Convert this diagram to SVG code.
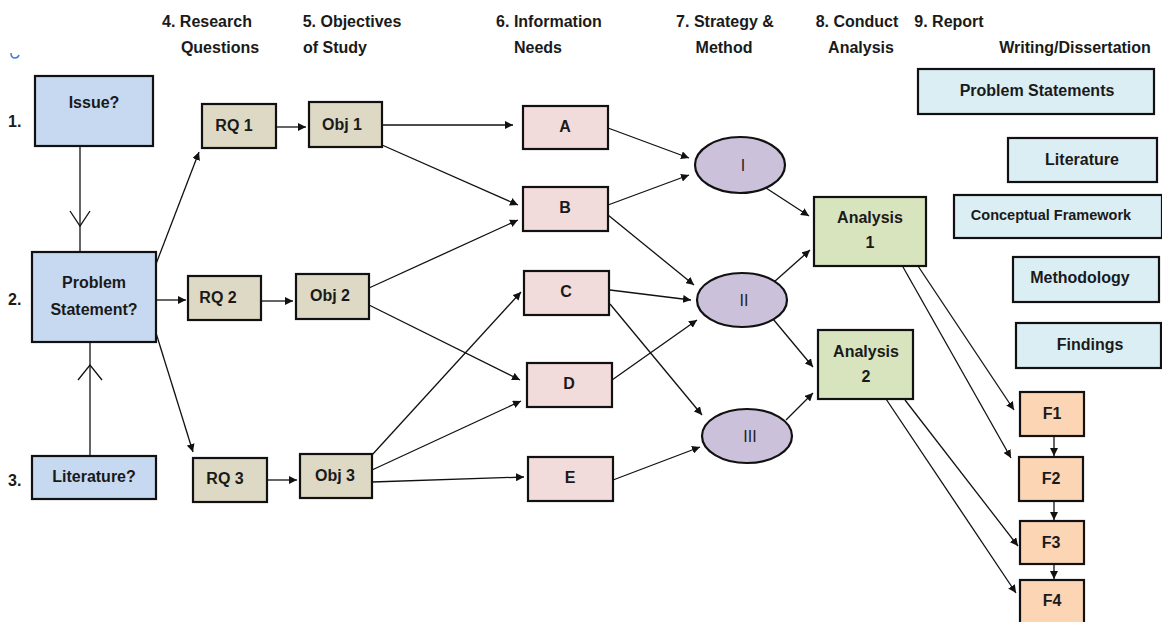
<svg xmlns="http://www.w3.org/2000/svg" width="1162" height="622" viewBox="0 0 1162 622">
<style>
text{font-family:"Liberation Sans",Arial,sans-serif;font-size:16px;font-weight:bold;fill:#1a1a1a;text-anchor:middle}
.num{text-anchor:start}
.thin{font-weight:normal;fill:#222}
.box{stroke:#111;stroke-width:2.2}
.blue{fill:#c6d9f1}
.tan{fill:#ddd9c4}
.pink{fill:#f2dcdb}
.vio{fill:#ccc1da}
.grn{fill:#d7e4bd}
.cyan{fill:#dbeef4}
.org{fill:#fcd5b5}
.c{stroke:#111;stroke-width:1.3;fill:none}
</style>
<defs>
<marker id="ah" viewBox="0 0 10 10" refX="10" refY="5" markerWidth="8" markerHeight="8" markerUnits="userSpaceOnUse" orient="auto">
<path d="M0,0 L10,5 L0,10 z" fill="#111"/>
</marker>
</defs>
<rect width="1162" height="622" fill="#fff"/>
<path d="M11,53 q0,5 4,5 q3,0 4,-3" stroke="#3b7be0" stroke-width="1.5" fill="none"/>
<g id="headers">
<text x="207" y="27">4. Research</text>
<text x="220" y="53">Questions</text>
<text x="352" y="27">5. Objectives</text>
<text x="335" y="53">of Study</text>
<text x="549" y="27">6. Information</text>
<text x="538" y="53">Needs</text>
<text x="725" y="27">7. Strategy &amp;</text>
<text x="724" y="53">Method</text>
<text x="857" y="27">8. Conduct</text>
<text x="861" y="53">Analysis</text>
<text x="949" y="27">9. Report</text>
<text x="1075" y="53">Writing/Dissertation</text>
<text class="num" x="8" y="127">1.</text>
<text class="num" x="8" y="305">2.</text>
<text class="num" x="8" y="486">3.</text>
</g>
<g id="connectors">
<line class="c" x1="80" y1="146" x2="80" y2="252"/>
<path class="c" d="M70,211 L80,226 L90,211"/>
<line class="c" x1="90" y1="456" x2="90" y2="342"/>
<path class="c" d="M78,380 L90,365 L102,380"/>
<line class="c" x1="156" y1="264" x2="199" y2="152" marker-end="url(#ah)"/>
<line class="c" x1="156" y1="300" x2="186" y2="300" marker-end="url(#ah)"/>
<line class="c" x1="156" y1="333" x2="193" y2="452" marker-end="url(#ah)"/>
<line class="c" x1="276" y1="127" x2="306" y2="127" marker-end="url(#ah)"/>
<line class="c" x1="261" y1="301" x2="293" y2="301" marker-end="url(#ah)"/>
<line class="c" x1="267" y1="480" x2="297" y2="480" marker-end="url(#ah)"/>
<line class="c" x1="382" y1="125" x2="513" y2="125" marker-end="url(#ah)"/>
<line class="c" x1="382" y1="145" x2="518" y2="205" marker-end="url(#ah)"/>
<line class="c" x1="369" y1="288" x2="518" y2="220" marker-end="url(#ah)"/>
<line class="c" x1="369" y1="305" x2="520" y2="380" marker-end="url(#ah)"/>
<line class="c" x1="372" y1="455" x2="521" y2="292" marker-end="url(#ah)"/>
<line class="c" x1="372" y1="470" x2="521" y2="401" marker-end="url(#ah)"/>
<line class="c" x1="372" y1="482" x2="524" y2="477" marker-end="url(#ah)"/>
<line class="c" x1="608" y1="128" x2="689" y2="158" marker-end="url(#ah)"/>
<line class="c" x1="608" y1="205" x2="689" y2="175" marker-end="url(#ah)"/>
<line class="c" x1="608" y1="215" x2="694" y2="285" marker-end="url(#ah)"/>
<line class="c" x1="610" y1="290" x2="691" y2="300" marker-end="url(#ah)"/>
<line class="c" x1="610" y1="304" x2="702" y2="415" marker-end="url(#ah)"/>
<line class="c" x1="612" y1="380" x2="697" y2="320" marker-end="url(#ah)"/>
<line class="c" x1="613" y1="480" x2="700" y2="447" marker-end="url(#ah)"/>
<line class="c" x1="766" y1="188" x2="809" y2="216" marker-end="url(#ah)"/>
<line class="c" x1="774" y1="282" x2="810" y2="250" marker-end="url(#ah)"/>
<line class="c" x1="773" y1="319" x2="813" y2="367" marker-end="url(#ah)"/>
<line class="c" x1="786" y1="420" x2="813" y2="393" marker-end="url(#ah)"/>
<line class="c" x1="918" y1="266" x2="1014" y2="410" marker-end="url(#ah)"/>
<line class="c" x1="903" y1="267" x2="1011" y2="458" marker-end="url(#ah)"/>
<line class="c" x1="905" y1="400" x2="1018" y2="546" marker-end="url(#ah)"/>
<line class="c" x1="884" y1="396" x2="1016" y2="593" marker-end="url(#ah)"/>
<line class="c" x1="1054" y1="436" x2="1054" y2="456" marker-end="url(#ah)"/>
<line class="c" x1="1054" y1="501" x2="1054" y2="520" marker-end="url(#ah)"/>
<line class="c" x1="1054" y1="564" x2="1054" y2="579" marker-end="url(#ah)"/>
</g>
<g id="issue"><rect class="box blue" x="35" y="76" width="118" height="70"/><text x="94" y="108">Issue?</text></g>
<g id="problem"><rect class="box blue" x="32" y="252" width="124" height="90"/><text x="94" y="288">Problem</text><text x="94" y="315">Statement?</text></g>
<g id="literatureq"><rect class="box blue" x="32" y="456" width="124" height="43"/><text x="94" y="482">Literature?</text></g>
<g id="rq1"><rect class="box tan" x="202" y="104" width="74" height="44"/><text x="234" y="131">RQ 1</text></g>
<g id="rq2"><rect class="box tan" x="188" y="276" width="73" height="44"/><text x="218" y="303">RQ 2</text></g>
<g id="rq3"><rect class="box tan" x="193" y="458" width="74" height="44"/><text x="225" y="484">RQ 3</text></g>
<g id="obj1"><rect class="box tan" x="309" y="102" width="73" height="45"/><text x="342" y="130">Obj 1</text></g>
<g id="obj2"><rect class="box tan" x="296" y="274" width="73" height="45"/><text x="330" y="301">Obj 2</text></g>
<g id="obj3"><rect class="box tan" x="300" y="454" width="72" height="44"/><text x="335" y="481">Obj 3</text></g>
<g id="a"><rect class="box pink" x="523" y="106" width="85" height="43"/><text x="565" y="132">A</text></g>
<g id="b"><rect class="box pink" x="523" y="187" width="85" height="44"/><text x="565" y="213">B</text></g>
<g id="cc"><rect class="box pink" x="524" y="271" width="85" height="44"/><text x="566" y="297">C</text></g>
<g id="d"><rect class="box pink" x="527" y="363" width="85" height="44"/><text x="569" y="389">D</text></g>
<g id="e"><rect class="box pink" x="528" y="457" width="85" height="44"/><text x="570" y="483">E</text></g>
<g id="s1"><ellipse class="box vio" cx="740" cy="165" rx="45" ry="28"/><text class="thin" x="743" y="171">I</text></g>
<g id="s2"><ellipse class="box vio" cx="742" cy="300" rx="45" ry="27"/><text class="thin" x="744" y="306">II</text></g>
<g id="s3"><ellipse class="box vio" cx="747" cy="436" rx="45" ry="27"/><text class="thin" x="750" y="442">III</text></g>
<g id="an1"><rect class="box grn" x="814" y="197" width="112" height="69"/><text x="870" y="223">Analysis</text><text x="870" y="248">1</text></g>
<g id="an2"><rect class="box grn" x="818" y="330" width="95" height="69"/><text x="866" y="357">Analysis</text><text x="866" y="382">2</text></g>
<g id="rps"><rect class="box cyan" x="918" y="69" width="236" height="45"/><text x="1037" y="96">Problem Statements</text></g>
<g id="rlit"><rect class="box cyan" x="1008" y="138" width="149" height="44"/><text x="1082" y="165">Literature</text></g>
<g id="rcf"><rect class="box cyan" x="954" y="195" width="208" height="43"/><text x="1051" y="220" style="font-size:14.5px">Conceptual Framework</text></g>
<g id="rmeth"><rect class="box cyan" x="1013" y="257" width="146" height="45"/><text x="1080" y="283">Methodology</text></g>
<g id="rfind"><rect class="box cyan" x="1016" y="323" width="145" height="45"/><text x="1090" y="350">Findings</text></g>
<g id="f1"><rect class="box org" x="1020" y="392" width="64" height="44"/><text x="1052" y="419">F1</text></g>
<g id="f2"><rect class="box org" x="1019" y="457" width="64" height="44"/><text x="1051" y="484">F2</text></g>
<g id="f3"><rect class="box org" x="1020" y="521" width="64" height="43"/><text x="1051" y="548">F3</text></g>
<g id="f4"><rect class="box org" x="1020" y="580" width="64" height="50"/><text x="1052" y="606">F4</text></g>
</svg>
